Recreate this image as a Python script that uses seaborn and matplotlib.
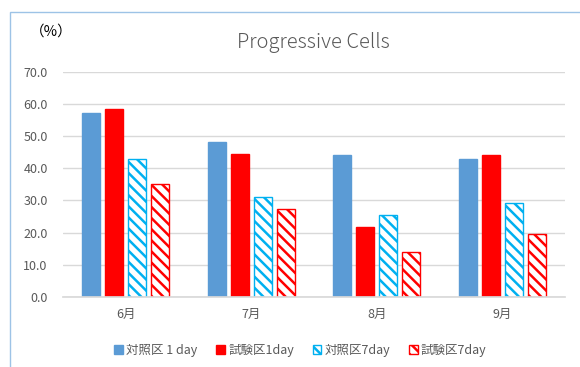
import pandas as pd
import matplotlib
matplotlib.use("Agg")
import matplotlib.pyplot as plt
import seaborn as sns
from matplotlib.patches import Rectangle, Patch

# data
months = ["6月", "7月", "8月", "9月"]
series = ["対照区 1 day", "試験区1day", "対照区7day", "試験区7day"]
ctrl_1day = [57.3, 48.3, 44.2, 42.9]
test_1day = [58.4, 44.5, 21.7, 44.2]
ctrl_7day = [42.8, 31.0, 25.4, 29.2]
test_7day = [35.1, 27.5, 14.0, 19.5]
y_ticks = [0, 10, 20, 30, 40, 50, 60, 70]

fills = ["#5B9BD5", "#FF0000", "white", "white"]
edges = ["#5B9BD5", "#FF0000", "#00B0F0", "#FF0000"]
hatches = [None, None, "\\\\\\", "\\\\\\"]

df = pd.DataFrame({
    "month": months * 4,
    "series": [s for s in series for _ in months],
    "value": ctrl_1day + test_1day + ctrl_7day + test_7day,
})

sns.set_theme(style="white")
plt.rcParams["font.family"] = ["Noto Sans CJK JP", "DejaVu Sans"]
plt.rcParams["hatch.linewidth"] = 1.8

fig = plt.figure(figsize=(5.8, 3.67), dpi=100)
ax = fig.add_axes([63 / 580, 0.191, 502 / 580, 0.613])

sns.barplot(data=df, x="month", y="value", hue="series", hue_order=series,
            order=months, palette=fills, width=0.73, gap=0.22, ax=ax,
            legend=False, errorbar=None)

for cont, fc, ec, h in zip(ax.containers, fills, edges, hatches):
    for bar in cont:
        bar.set_facecolor(fc)
        bar.set_edgecolor(ec)
        bar.set_linewidth(1.0)
        if h:
            bar.set_hatch(h)

ax.set_ylim(0, 70)
ax.set_xlim(-0.5, 3.5)
ax.set_yticks(y_ticks)
ax.set_yticklabels([f"{t:.1f}" for t in y_ticks])
ax.yaxis.grid(True, color="#D9D9D9", linewidth=1)
ax.set_axisbelow(True)
for s in ["top", "right", "left"]:
    ax.spines[s].set_visible(False)
ax.spines["bottom"].set_color("#D9D9D9")
ax.tick_params(axis="both", length=0, labelsize=9, labelcolor="#595959")
ax.tick_params(axis="y", pad=11)
ax.tick_params(axis="x", pad=8)
ax.set_xlabel("")
ax.set_ylabel("")

fig.text(0.54, 0.885, "Progressive Cells", ha="center", va="center",
         fontsize=14.5, color="#595959", fontweight="light")
fig.text(0.088, 0.915, "（%）", ha="center", va="center", fontsize=10.5,
         color="black")

handles = [Patch(facecolor=fc, edgecolor=ec, hatch=h, linewidth=1)
           for fc, ec, h in zip(fills, edges, hatches)]
fig.legend(handles, series, loc="center", bbox_to_anchor=(0.518, 0.045),
           ncol=4, frameon=False, fontsize=9, handlelength=0.7,
           handleheight=0.7, handletextpad=0.25, columnspacing=1.5,
           labelcolor="#595959")

fig.patches.append(Rectangle((10 / 580, -0.05), 1.1, 1 - 12 / 367 + 0.05,
                             transform=fig.transFigure, fill=False,
                             edgecolor="#9DC3E6", linewidth=1))

fig.savefig("out.png", dpi=100)
